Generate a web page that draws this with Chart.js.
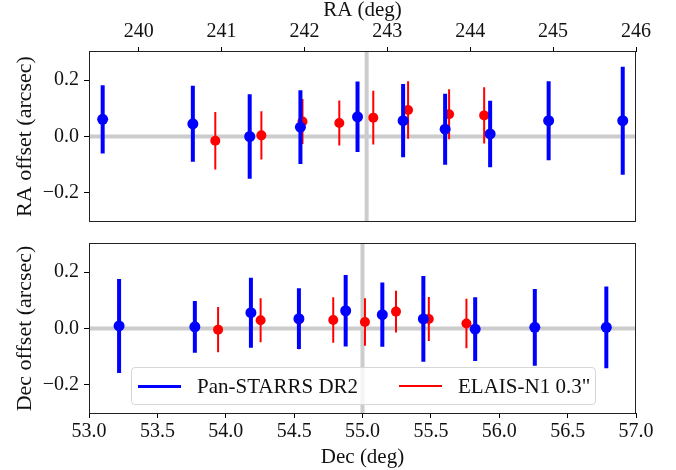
<!DOCTYPE html>
<html>
<head>
<meta charset="utf-8">
<title>RA / Dec offsets</title>
<script src="https://cdn.jsdelivr.net/npm/chart.js@4/dist/chart.umd.min.js"></script>
<style>
  html, body { margin: 0; padding: 0; background: #fff; }
  .wrap { position: relative; width: 676px; height: 470px; font-family: 'Liberation Serif', 'Times New Roman', serif; }
  canvas { position: absolute; left: 0; }
  #raChart  { top: 0; }
  #decChart { top: 235px; }
  .legend { position: absolute; left: 131px; top: 367px; width: 463px; height: 36px;
            border: 1px solid #d6d6d6; border-radius: 4px; background: rgba(255,255,255,0.8); }
  .legend-item { position: absolute; top: 0; height: 36px; display: flex; align-items: center;
                 font-family: 'Liberation Serif', serif; font-size: 21px; color: #111; white-space: nowrap; }
  .legend-line { width: 43px; margin-right: 16px; }
</style>
</head>
<body>
<div class="wrap">
  <canvas id="raChart" width="676" height="235"></canvas>
  <canvas id="decChart" width="676" height="235"></canvas>
  <div class="legend" id="legend"></div>
</div>

<script>
/* ── Data ───────────────────────────────────────────────── */

// field centre (ELAIS-N1)
const RA_CENTER  = 242.75;
const DEC_CENTER = 55.0;

// RA panel – Pan-STARRS DR2
const raBlueX   = [239.565, 240.653, 241.339, 241.951, 242.640, 243.190, 243.697, 244.240, 244.946, 245.840];
const raBlueY   = [0.061, 0.045, 0.000, 0.033, 0.070, 0.056, 0.026, 0.009, 0.056, 0.056];
const raBlueErr = [0.121, 0.135, 0.150, 0.131, 0.125, 0.130, 0.126, 0.118, 0.140, 0.192];

// RA panel – ELAIS-N1 0.3"
const raRedX   = [240.924, 241.480, 241.976, 242.420, 242.830, 243.250, 243.745, 244.168];
const raRedY   = [-0.015, 0.004, 0.053, 0.048, 0.067, 0.094, 0.079, 0.075];
const raRedErr = [0.102, 0.086, 0.080, 0.080, 0.095, 0.102, 0.089, 0.100];

// Dec panel – Pan-STARRS DR2
const decBlueX   = [53.220, 53.774, 54.184, 54.535, 54.877, 55.145, 55.445, 55.824, 56.260, 56.783];
const decBlueY   = [0.009, 0.006, 0.056, 0.035, 0.063, 0.049, 0.034, -0.002, 0.004, 0.004];
const decBlueErr = [0.167, 0.092, 0.124, 0.108, 0.127, 0.114, 0.152, 0.113, 0.136, 0.145];

// Dec panel – ELAIS-N1 0.3"
const decRedX   = [53.944, 54.255, 54.535, 54.786, 55.018, 55.245, 55.485, 55.760];
const decRedY   = [-0.004, 0.029, 0.032, 0.030, 0.023, 0.060, 0.034, 0.018];
const decRedErr = [0.080, 0.078, 0.106, 0.081, 0.084, 0.074, 0.078, 0.088];

// axes
const raRange     = [239.4, 246.0];
const decRange    = [53.0, 57.0];
const offsetRange = [-0.3, 0.3];
const raTicks     = [240, 241, 242, 243, 244, 245, 246];
const decTicks    = [53.0, 53.5, 54.0, 54.5, 55.0, 55.5, 56.0, 56.5, 57.0];
const offsetTicks = [-0.2, 0.0, 0.2];

const seriesNames = ['Pan-STARRS DR2', 'ELAIS-N1 0.3"'];


/* ── Config ─────────────────────────────────────────────── */

const SERIF = "'Liberation Serif', 'Times New Roman', serif";

const CONFIG = {
  tickFont:  { family: SERIF, size: 20 },
  titleFont: { family: SERIF, size: 21 },
  yTitleFont:{ family: SERIF, size: 22 },
  text:  '#111',
  frame: '#222',
  blue:  '#0000ff',
  red:   '#ff0000',
  ref:   '#cccccc',
  yAxisWidth: 89,
  padRight: 40
};


/* ── Helpers ────────────────────────────────────────────── */

function fmtOffset(v) {
  if (Math.abs(v) < 1e-9) return '0.0';
  return (v < 0 ? '\u2212' : '') + Math.abs(v).toFixed(1);
}

// error bars as one line dataset, broken by null gaps
function errorBarPoints(xs, ys, errs) {
  const pts = [];
  xs.forEach((x, i) => {
    pts.push({ x, y: ys[i] - errs[i] }, { x, y: ys[i] + errs[i] }, { x, y: null });
  });
  return pts;
}

function toPoints(xs, ys) {
  return xs.map((x, i) => ({ x, y: ys[i] }));
}

// no extra room for edge labels – layout is fixed by hand
function clearScalePadding(s) {
  s.paddingTop = 0; s.paddingBottom = 0;
  s.paddingLeft = 0; s.paddingRight = 0;
}

const framePlugin = {
  id: 'frame',
  afterDraw(chart) {
    const { ctx, chartArea: a } = chart;
    ctx.save();
    ctx.strokeStyle = CONFIG.frame;
    ctx.lineWidth = 1;
    ctx.strokeRect(a.left + 0.5, a.top - 0.5, a.right - a.left - 1, a.bottom - a.top + 1);
    ctx.restore();
  }
};

function buildDatasets(bx, by, be, rx, ry, re, xRange, xCenter) {
  return [
    { data: toPoints(bx, by), backgroundColor: CONFIG.blue, borderWidth: 0,
      pointRadius: 5.5, order: 1 },
    { data: errorBarPoints(bx, by, be), showLine: true, spanGaps: false,
      borderColor: CONFIG.blue, borderWidth: 4, borderCapStyle: 'butt', pointRadius: 0, order: 2 },
    { data: toPoints(rx, ry), backgroundColor: CONFIG.red, borderWidth: 0,
      pointRadius: 5, order: 3 },
    { data: errorBarPoints(rx, ry, re), showLine: true, spanGaps: false,
      borderColor: CONFIG.red, borderWidth: 2, borderCapStyle: 'butt', pointRadius: 0, order: 4 },
    // reference lines
    { data: [{ x: xRange[0], y: 0 }, { x: xRange[1], y: 0 }], showLine: true,
      borderColor: CONFIG.ref, borderWidth: 4, pointRadius: 0, order: 9 },
    { data: [{ x: xCenter, y: offsetRange[0] }, { x: xCenter, y: offsetRange[1] }], showLine: true,
      borderColor: CONFIG.ref, borderWidth: 4, pointRadius: 0, order: 9 }
  ];
}

function yAxis(title) {
  return {
    min: offsetRange[0], max: offsetRange[1],
    afterBuildTicks: s => { s.ticks = offsetTicks.map(v => ({ value: v })); },
    afterFit: s => { s.width = CONFIG.yAxisWidth; clearScalePadding(s); },
    border: { display: false },
    grid: { drawOnChartArea: false, drawTicks: true, tickLength: 5, tickColor: '#000' },
    ticks: { color: CONFIG.text, font: CONFIG.tickFont, padding: 5, callback: fmtOffset },
    title: { display: true, text: title, color: CONFIG.text, font: CONFIG.yTitleFont,
             padding: { top: 12, bottom: 0 } }
  };
}

function baseOptions(layoutPad) {
  return {
    responsive: false,
    animation: false,
    events: [],
    layout: { padding: layoutPad },
    plugins: { legend: { display: false }, tooltip: { enabled: false } }
  };
}


/* ── Init ───────────────────────────────────────────────── */

document.addEventListener('DOMContentLoaded', () => {
  initRaChart();
  initDecChart();
  buildLegend();
});


/* ── RA panel ───────────────────────────────────────────── */

function initRaChart() {
  const opts = baseOptions({ left: 0, right: CONFIG.padRight, top: 0, bottom: 14 });
  opts.scales = {
    x: {
      type: 'linear', position: 'top',
      min: raRange[0], max: raRange[1],
      afterBuildTicks: s => { s.ticks = raTicks.map(v => ({ value: v })); },
      afterFit: s => { s.height = 52; clearScalePadding(s); },
      border: { display: false },
      grid: { drawOnChartArea: false, drawTicks: true, tickLength: 5, tickColor: '#000' },
      ticks: { color: CONFIG.text, font: CONFIG.tickFont, padding: 3, maxRotation: 0,
               callback: v => String(v) },
      title: { display: true, text: 'RA (deg)', color: CONFIG.text,
               font: { ...CONFIG.titleFont, lineHeight: 1 }, padding: 0 }
    },
    y: yAxis('RA offset (arcsec)')
  };

  new Chart(document.getElementById('raChart'), {
    type: 'scatter',
    data: { datasets: buildDatasets(raBlueX, raBlueY, raBlueErr, raRedX, raRedY, raRedErr, raRange, RA_CENTER) },
    options: opts,
    plugins: [framePlugin]
  });
}


/* ── Dec panel ──────────────────────────────────────────── */

function initDecChart() {
  const opts = baseOptions({ left: 0, right: CONFIG.padRight, top: 9, bottom: 0 });
  opts.scales = {
    x: {
      type: 'linear', position: 'bottom',
      min: decRange[0], max: decRange[1],
      afterBuildTicks: s => { s.ticks = decTicks.map(v => ({ value: v })); },
      afterFit: s => { s.height = 57; clearScalePadding(s); },
      border: { display: false },
      grid: { drawOnChartArea: false, drawTicks: true, tickLength: 5, tickColor: '#000' },
      ticks: { color: CONFIG.text, font: CONFIG.tickFont, padding: 2, maxRotation: 0,
               callback: v => v.toFixed(1) },
      title: { display: true, text: 'Dec (deg)', color: CONFIG.text, font: CONFIG.titleFont,
               padding: { top: 0, bottom: 0 } }
    },
    y: yAxis('Dec offset (arcsec)')
  };

  new Chart(document.getElementById('decChart'), {
    type: 'scatter',
    data: { datasets: buildDatasets(decBlueX, decBlueY, decBlueErr, decRedX, decRedY, decRedErr, decRange, DEC_CENTER) },
    options: opts,
    plugins: [framePlugin]
  });
}


/* ── Legend ─────────────────────────────────────────────── */

function buildLegend() {
  const el = document.getElementById('legend');
  const items = [
    { label: seriesNames[0], color: CONFIG.blue, width: 3,   left: 6 },
    { label: seriesNames[1], color: CONFIG.red,  width: 2.5, left: 267 }
  ];
  el.innerHTML = items.map(it => `
    <div class="legend-item" style="left:${it.left}px">
      <div class="legend-line" style="height:${it.width}px;background:${it.color}"></div>
      <span>${it.label}</span>
    </div>`).join('');
}
</script>
</body>
</html>
